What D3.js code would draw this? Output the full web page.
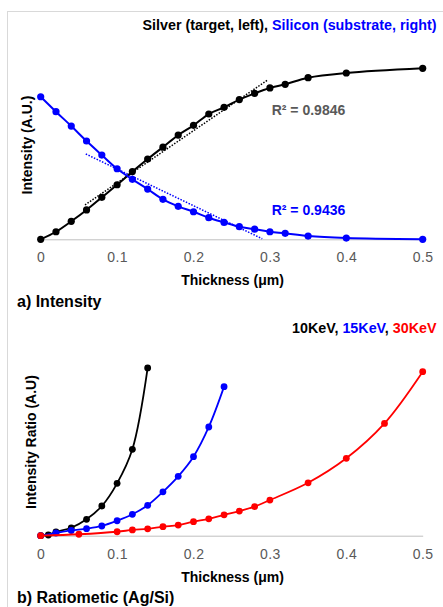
<!DOCTYPE html>
<html><head><meta charset="utf-8">
<script src="https://cdn.jsdelivr.net/npm/d3@7"></script>
<style>
html,body{margin:0;padding:0;background:#fff;}
text{font-family:"Liberation Sans",Arial,sans-serif;}
</style></head>
<body>
<svg id="c" width="443" height="607"></svg>
<script>
// ---- Data (top: intensity) ----
const agX = [0,0.02,0.04,0.06,0.08,0.10,0.12,0.14,0.16,0.18,0.20,0.22,0.24,0.26,0.28,0.30,0.32,0.35,0.40,0.50];
const agY = [0,4.2,10.0,16.3,23.3,30.3,37.6,44.6,51.2,57.9,63.3,69.6,73.3,77.6,81.1,84.1,86.1,89.8,92.4,95.0];
const siX = [0,0.02,0.04,0.06,0.08,0.10,0.12,0.14,0.16,0.18,0.20,0.22,0.24,0.26,0.28,0.30,0.32,0.35,0.40,0.50];
const siY = [79.2,70.9,62.9,54.6,46.8,39.2,33.3,27.9,22.2,18.3,15.3,12.0,9.4,7.0,5.6,4.2,3.3,1.8,0.7,0];
const agTrendX = [0.058,0.297];
const agTrendY = [19.1,88.5];
const siTrendX = [0.059,0.29];
const siTrendY = [47.4,0.3];
const agR2 = "R² = 0.9846";
const siR2 = "R² = 0.9436";

// ---- Data (bottom: ratiometric) ----
const k10X = [0,0.01,0.02,0.04,0.06,0.08,0.10,0.12,0.14];
const k10Y = [0,0.4,2.1,4.4,9.1,16.5,29.1,48.0,93.2];
const k15X = [0,0.02,0.04,0.06,0.08,0.10,0.12,0.14,0.16,0.18,0.20,0.22,0.24];
const k15Y = [0,1.5,2.9,3.9,5.4,8.3,11.9,16.9,24.4,33.0,43.9,60.4,82.8];
const k30X = [0,0.05,0.10,0.12,0.14,0.16,0.18,0.20,0.22,0.24,0.26,0.28,0.30,0.35,0.40,0.45,0.50];
const k30Y = [0,0.8,2.2,3.2,3.8,5.0,5.9,7.8,9.4,11.6,13.7,16.2,19.8,29.4,43.0,62.4,91.1];

const xTicks = [0,0.1,0.2,0.3,0.4,0.5];
const xTickLabels = ["0","0.1","0.2","0.3","0.4","0.5"];

const svg = d3.select("#c");
const GRAY_AXIS = "#bfbfbf";
const TICK_COL = "#595959";

// frame
svg.append("rect").attr("x",7.5).attr("y",11.5).attr("width",500).attr("height",700)
  .attr("fill","none").attr("stroke","#d9d9d9").attr("stroke-width",1);

const x = d3.scaleLinear().domain([0,0.5]).range([40.7,422.7]);

function panel(cfg){
  const y = d3.scaleLinear().domain([0,100]).range([cfg.y0, cfg.y0-180]);
  const g = svg.append("g");
  const ax = g.append("g").attr("transform",`translate(0,${cfg.y0})`)
    .call(d3.axisBottom(x).tickValues(xTicks).tickFormat((d,i)=>xTickLabels[i]).tickSize(0).tickPadding(13));
  ax.select(".domain").attr("stroke",GRAY_AXIS).attr("stroke-width",1);
  ax.selectAll("text").attr("fill",TICK_COL).style("font-size","14px").style("letter-spacing","0.4px")
    .style("font-family","'Liberation Sans',Arial,sans-serif");
  // x title
  g.append("text").attr("x",232.5).attr("y",cfg.y0+46).attr("text-anchor","middle")
    .style("font-size","14px").style("font-weight","bold").text("Thickness (μm)");
  // y title
  g.append("text").attr("transform",`translate(${cfg.ylx},${cfg.ylc}) rotate(-90)`).attr("text-anchor","middle")
    .style("font-size","14px").style("font-weight","bold").text(cfg.ylabel);
  // panel label
  g.append("text").attr("x",17).attr("y",cfg.y0+67.5).style("font-size","16px").style("font-weight","bold").text(cfg.plabel);
  // title
  const t = g.append("text").attr("x",436.5).attr("y",cfg.titleY).attr("text-anchor","end")
    .style("font-size","14.3px").style("font-weight","bold");
  cfg.title.forEach(p=>t.append("tspan").attr("fill",p[1]).text(p[0]));

  const line = d3.line().x(d=>x(d[0])).y(d=>y(d[1])).curve(d3.curveCatmullRom.alpha(0.5));
  cfg.trends.forEach(tr=>{
    g.append("path").datum(d3.zip(tr.x,tr.y))
      .attr("d",d3.line().x(d=>x(d[0])).y(d=>y(d[1])))
      .attr("fill","none").attr("stroke",tr.c).attr("stroke-width",1.5).attr("stroke-dasharray","1.5,1.5");
  });
  cfg.series.forEach(s=>{
    const pts = d3.zip(s.x,s.y);
    g.append("path").datum(pts).attr("d",line).attr("fill","none").attr("stroke",s.c).attr("stroke-width",cfg.lw);
    g.selectAll(null).data(pts).enter().append("circle")
      .attr("cx",d=>x(d[0])).attr("cy",d=>y(d[1])).attr("r",cfg.r).attr("fill",s.c);
  });
  cfg.labels.forEach(l=>{
    g.append("text").attr("x",l.x).attr("y",l.y).attr("fill",l.c)
      .style("font-size","14px").style("font-weight","bold").text(l.t);
  });
}

panel({
  y0:239.3, ylx:32, ylc:145, ylabel:"Intensity (A.U.)", plabel:"a) Intensity",
  titleY:30, title:[["Silver (target, left), ","#000"],["Silicon (substrate, right)","#0000ff"]],
  trends:[{x:agTrendX,y:agTrendY,c:"#000"},{x:siTrendX,y:siTrendY,c:"#0000ff"}],
  series:[{x:agX,y:agY,c:"#000"},{x:siX,y:siY,c:"#0000ff"}],
  labels:[{x:271.7,y:115,c:"#595959",t:agR2},{x:271.7,y:215,c:"#0000ff",t:siR2}],
  lw:2, r:3.6
});

panel({
  y0:535.7, ylx:36, ylc:442, ylabel:"Intensity Ratio (A.U)", plabel:"b) Ratiometic (Ag/Si)",
  titleY:332.7, title:[["10KeV, ","#000"],["15KeV","#0000ff"],[", ","#000"],["30KeV","#ff0000"]],
  trends:[],
  series:[{x:k10X,y:k10Y,c:"#000"},{x:k15X,y:k15Y,c:"#0000ff"},{x:k30X,y:k30Y,c:"#ff0000"}],
  labels:[],
  lw:1.8, r:3.4
});
</script>
</body></html>
